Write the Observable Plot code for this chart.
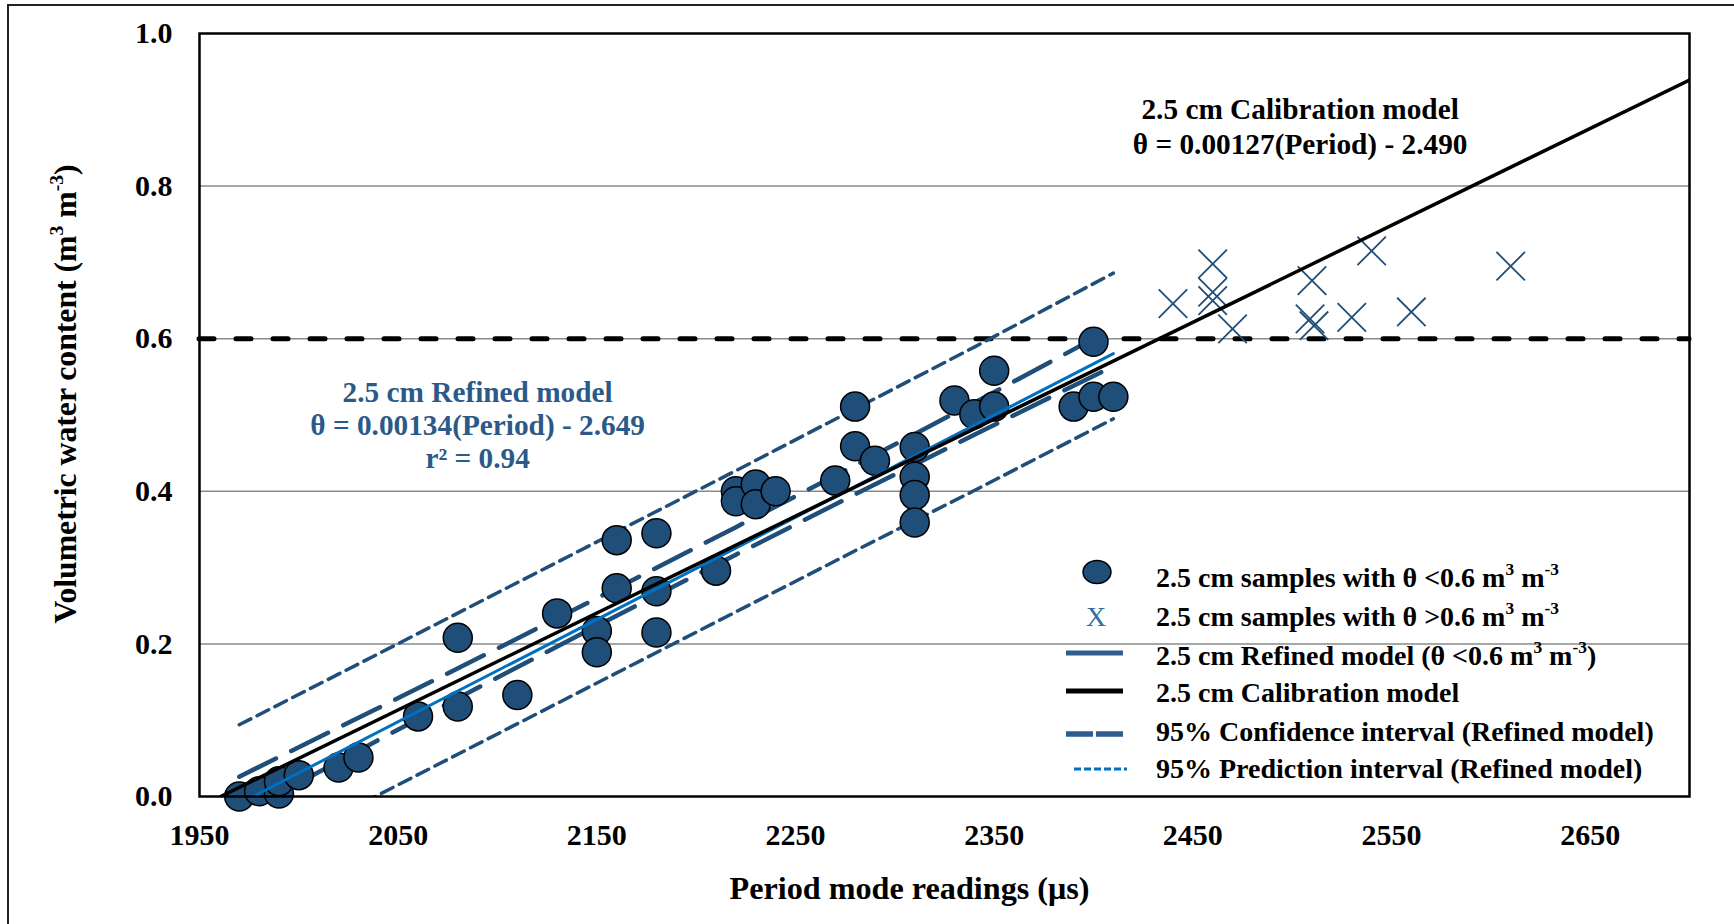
<!DOCTYPE html>
<html>
<head>
<meta charset="utf-8">
<script src="https://cdn.jsdelivr.net/npm/d3@7"></script>
<script src="https://cdn.jsdelivr.net/npm/@observablehq/plot@0.6"></script>
<style>
  html, body { margin: 0; padding: 0; background: #fff; }
  #wrap { position: relative; width: 1734px; height: 924px; overflow: hidden; background: #fff; }
  #outline { position: absolute; left: 7px; top: 4px; width: 1760px; height: 950px; border: 2px solid #222; box-sizing: border-box; }
  #wrap svg { position: absolute; left: 0; top: 0; }
</style>
</head>
<body>
<div id="wrap"><div id="outline"></div></div>
<script>
// ---- Samples with theta < 0.6 (circles) ----
const lowPeriod = [1970, 1980, 1990, 1990, 2000, 2020, 2030, 2060, 2080, 2080,
                   2110, 2130, 2150, 2150, 2160, 2160, 2180, 2180, 2180, 2210,
                   2220, 2220, 2230, 2230, 2240, 2270, 2280, 2280, 2290, 2310,
                   2310, 2310, 2310, 2330, 2340, 2350, 2350, 2390, 2400, 2400, 2410];
const lowTheta  = [0.000, 0.007, 0.004, 0.020, 0.028, 0.038, 0.051, 0.105, 0.118, 0.208,
                   0.133, 0.240, 0.217, 0.189, 0.336, 0.273, 0.345, 0.269, 0.215, 0.296,
                   0.400, 0.387, 0.409, 0.383, 0.400, 0.414, 0.511, 0.459, 0.440, 0.458,
                   0.419, 0.395, 0.359, 0.519, 0.501, 0.558, 0.511, 0.511, 0.596, 0.524, 0.524];

// ---- Samples with theta > 0.6 (crosses) ----
const highPeriod = [2440, 2460, 2460, 2460, 2470, 2510, 2509, 2511, 2530, 2540, 2560, 2610];
const highTheta  = [0.646, 0.698, 0.661, 0.650, 0.613, 0.676, 0.626, 0.617, 0.628, 0.715, 0.635, 0.695];

// ---- Models ----
const refinedSlope = 0.00134, refinedIntercept = -2.649;   // refined model (theta < 0.6)
const refinedPeriodRange = [1970, 2410];
const calSlope = 0.00127, calIntercept = -2.490;           // calibration model
const calPeriodEnd = 2700;

// ---- 95% intervals of the refined model ----
const bandPeriod = [1970, 2040, 2100, 2160, 2220, 2280, 2340, 2410];
const ciUpper = [0.026, 0.116, 0.194, 0.273, 0.353, 0.434, 0.516, 0.614];
const ciLower = [-0.024, 0.074, 0.156, 0.237, 0.317, 0.396, 0.474, 0.564];
const piUpper = [0.094, 0.187, 0.267, 0.347, 0.427, 0.508, 0.589, 0.686];
const piLower = [-0.092, 0.002, 0.082, 0.162, 0.242, 0.322, 0.401, 0.495];

// ---- Axes ----
const xTicks = [1950, 2050, 2150, 2250, 2350, 2450, 2550, 2650];
const yTicks = [0.0, 0.2, 0.4, 0.6, 0.8, 1.0];
const yGrid = [0.2, 0.4, 0.6, 0.8];
const thetaLimit = 0.6;

// ---- Text ----
const calibText = "2.5 cm Calibration model\nθ = 0.00127(Period) - 2.490";
const refinedText = "2.5 cm Refined model\nθ = 0.00134(Period) - 2.649\nr² = 0.94";
const xTitle = "Period mode readings (μs)";
const yTitle = "Volumetric water content (m^{3} m^{-3})";
const legendLabels = [
  "2.5 cm samples with θ <0.6 m^{3} m^{-3}",
  "2.5 cm samples with θ >0.6 m^{3} m^{-3}",
  "2.5 cm Refined model (θ <0.6 m^{3} m^{-3})",
  "2.5 cm Calibration model",
  "95% Confidence interval (Refined model)",
  "95% Prediction interval (Refined model)"
];

// ---- Tables built from the arrays above ----
const lowPts = lowPeriod.map((p, i) => ({p, t: lowTheta[i]}));
const highPts = highPeriod.map((p, i) => ({p, t: highTheta[i]}));
const band = bandPeriod.map((p, i) => ({p, ciU: ciUpper[i], ciL: ciLower[i], piU: piUpper[i], piL: piLower[i]}));
const refinedLine = refinedPeriodRange.map(p => ({p, t: refinedSlope * p + refinedIntercept}));
const calLine = [-calIntercept / calSlope, calPeriodEnd].map(p => ({p, t: calSlope * p + calIntercept}));

const FONT = "'Liberation Serif', 'Times New Roman', Times, serif";
const NAVY = "#1F4E79";
const TEXT_BLUE = "#2B5A88";
const BRIGHT = "#0070C0";

const chart = Plot.plot({
  width: 1734,
  height: 924,
  marginLeft: 199,
  marginRight: 45,
  marginTop: 33,
  marginBottom: 128,
  style: {fontFamily: FONT, fontWeight: "bold", fontSize: "30px", color: "black", background: "transparent"},
  x: {domain: [1950, 2700]},
  y: {domain: [0, 1]},
  marks: [
    Plot.gridY(yGrid, {stroke: "#8a8a8a", strokeOpacity: 1, strokeWidth: 1.5}),
    Plot.ruleY([thetaLimit], {stroke: "black", strokeWidth: 5, strokeDasharray: "15,22", strokeLinecap: "round"}),
    // prediction interval
    Plot.line(band, {x: "p", y: "piU", stroke: NAVY, strokeWidth: 3.5, strokeDasharray: "13,7", clip: true}),
    Plot.line(band, {x: "p", y: "piL", stroke: NAVY, strokeWidth: 3.5, strokeDasharray: "13,7", clip: true}),
    // confidence interval
    Plot.line(band, {x: "p", y: "ciU", stroke: NAVY, strokeWidth: 4.5, strokeDasharray: "41,17", clip: true}),
    Plot.line(band, {x: "p", y: "ciL", stroke: NAVY, strokeWidth: 4.5, strokeDasharray: "41,17", clip: true}),
    // samples
    Plot.dot(lowPts, {x: "p", y: "t", r: 14.5, fill: NAVY, stroke: "black", strokeWidth: 1.5}),
    Plot.dot(highPts, {x: "p", y: "t", r: 13, symbol: "times", stroke: NAVY, strokeWidth: 1.8}),
    // model lines
    Plot.line(refinedLine, {x: "p", y: "t", stroke: BRIGHT, strokeWidth: 3, clip: true}),
    Plot.line(calLine, {x: "p", y: "t", stroke: "black", strokeWidth: 3.5, clip: true}),
    Plot.frame({stroke: "black", strokeWidth: 2.5}),
    Plot.axisX({ticks: xTicks, tickSize: 0, tickPadding: 27, tickFormat: d3.format("d"), fontSize: 30, fontWeight: "bold", label: null}),
    Plot.axisY({ticks: yTicks, tickSize: 0, tickPadding: 27, tickFormat: d3.format(".1f"), fontSize: 30, fontWeight: "bold", label: null}),
    // annotations
    Plot.text([{p: 2504, t: 0.880, s: calibText}], {x: "p", y: "t", text: "s", fontSize: 29.3, fontWeight: "bold", lineHeight: 1.2, fill: "black", textAnchor: "middle"}),
    Plot.text([{p: 2090, t: 0.488, s: refinedText}], {x: "p", y: "t", text: "s", fontSize: 29.3, fontWeight: "bold", lineHeight: 1.13, fill: TEXT_BLUE, textAnchor: "middle"}),
    Plot.text([xTitle], {frameAnchor: "bottom", dx: -35, dy: 92, lineAnchor: "middle", fontSize: 32.2, fontWeight: "bold", fill: "black"})
  ]
});

document.getElementById("wrap").appendChild(chart);

// Writes text with ^{...} superscripts into an SVG text element.
function richText(sel, str, size) {
  const parts = str.split(/\^\{([^}]*)\}/);
  const shift = size * 0.42;
  let raised = false;
  parts.forEach((s, i) => {
    if (!s) return;
    const sup = i % 2 === 1;
    const ts = sel.append("tspan").text(s);
    if (sup) {
      ts.attr("font-size", size * 0.62).attr("dy", -shift);
      raised = true;
    } else if (raised) {
      ts.attr("dy", shift);
      raised = false;
    }
  });
}

const svg = d3.select(chart);

// y-axis title
const yt = svg.append("text")
  .attr("transform", "translate(65,394) rotate(-90)")
  .attr("text-anchor", "middle")
  .attr("dy", "0.35em")
  .attr("font-family", FONT).attr("font-weight", "bold").attr("font-size", 31.7)
  .attr("fill", "black");
richText(yt, yTitle, 31.7);

// legend
const LEG_SIZE = 28;
const lg = svg.append("g").attr("font-family", FONT).attr("font-weight", "bold").attr("font-size", LEG_SIZE);
const rowY = [577, 616, 655, 692, 731, 768];
const symX = 1096, textX = 1156;
lg.append("ellipse").attr("cx", symX + 1).attr("cy", rowY[0] - 5).attr("rx", 14).attr("ry", 11.5)
  .attr("fill", NAVY).attr("stroke", "black").attr("stroke-width", 1.5);
lg.append("text").attr("x", symX).attr("y", rowY[1]).attr("dy", "0.35em").attr("text-anchor", "middle")
  .attr("font-weight", "normal").attr("font-size", 28).attr("fill", "#2E6DA4").text("X");
lg.append("line").attr("x1", 1066).attr("x2", 1123).attr("y1", rowY[2] - 2).attr("y2", rowY[2] - 2)
  .attr("stroke", "#2E5D8E").attr("stroke-width", 5);
lg.append("line").attr("x1", 1066).attr("x2", 1123).attr("y1", rowY[3] - 1).attr("y2", rowY[3] - 1)
  .attr("stroke", "black").attr("stroke-width", 5);
lg.append("line").attr("x1", 1066).attr("x2", 1123).attr("y1", rowY[4] + 3).attr("y2", rowY[4] + 3)
  .attr("stroke", "#2E5D8E").attr("stroke-width", 5.5).attr("stroke-dasharray", "27,3");
lg.append("line").attr("x1", 1074).attr("x2", 1127).attr("y1", rowY[5] + 1).attr("y2", rowY[5] + 1)
  .attr("stroke", BRIGHT).attr("stroke-width", 3).attr("stroke-dasharray", "7,3");
legendLabels.forEach((lab, i) => {
  const t = lg.append("text").attr("x", textX).attr("y", rowY[i]).attr("dy", "0.35em")
    .attr("text-anchor", "start").attr("fill", "black");
  richText(t, lab, LEG_SIZE);
});
</script>
</body>
</html>
